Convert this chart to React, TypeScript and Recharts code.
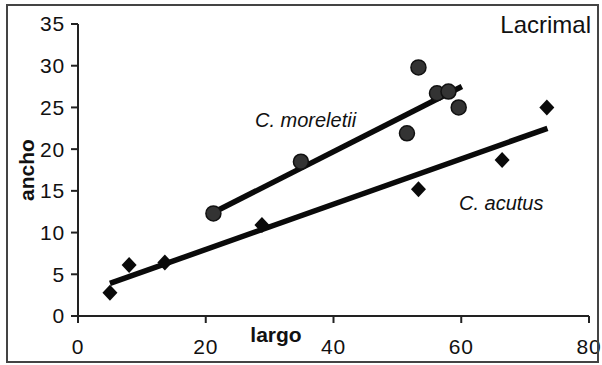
import React from "react";
import { ScatterChart, Scatter, XAxis, YAxis } from "recharts";

const acutusX = [5.0, 8.0, 13.6, 28.8, 53.3, 66.4, 73.4];
const acutusY = [2.8, 6.1, 6.4, 10.9, 15.2, 18.7, 25.0];
const moreletiiX = [21.2, 34.9, 51.5, 53.3, 56.2, 58.0, 59.6];
const moreletiiY = [12.3, 18.5, 21.9, 29.8, 26.7, 26.9, 25.0];
const acutusTrendX = [5.0, 73.5];
const acutusTrendY = [3.9, 22.5];
const moreletiiTrendX = [21.2, 60.1];
const moreletiiTrendY = [12.4, 27.5];
const xTicks = [0, 20, 40, 60, 80];
const yTicks = [0, 5, 10, 15, 20, 25, 30, 35];

const zip = (xs: number[], ys: number[]) => xs.map((x, i) => ({ x, y: ys[i] }));
const acutus = zip(acutusX, acutusY);
const moreletii = zip(moreletiiX, moreletiiY);
const acutusTrend = zip(acutusTrendX, acutusTrendY);
const moreletiiTrend = zip(moreletiiTrendX, moreletiiTrendY);

const FONT = '"Liberation Sans", Arial, Helvetica, sans-serif';

const Diamond = (props: any) => {
  const { cx, cy } = props;
  if (cx == null || cy == null) return <g />;
  const w = 7.5, h = 8;
  return (
    <polygon
      points={`${cx},${cy - h} ${cx + w},${cy} ${cx},${cy + h} ${cx - w},${cy}`}
      fill="#0a0a0a"
    />
  );
};

const Dot = (props: any) => {
  const { cx, cy } = props;
  if (cx == null || cy == null) return <g />;
  return <circle cx={cx} cy={cy} r={7.5} fill="#333" stroke="#111" strokeWidth={1.5} />;
};

const NoShape = () => <g />;

const tickStyle = { fontSize: 21, fill: "#111", fontFamily: FONT, letterSpacing: 0.8 };

export default function App() {
  return (
    <div style={{ position: "absolute", left: 0, top: 0, width: 602, height: 365, background: "#fff" }}>
      <ScatterChart
        width={602}
        height={365}
        margin={{ top: 24, right: 13, bottom: 9, left: 18 }}
      >
        <XAxis
          type="number"
          dataKey="x"
          domain={[0, 80]}
          ticks={xTicks}
          height={40}
          tick={tickStyle}
          tickSize={7}
          tickMargin={16}
          axisLine={{ stroke: "#222", strokeWidth: 2 }}
          tickLine={{ stroke: "#222", strokeWidth: 2 }}
          interval={0}
        />
        <YAxis
          type="number"
          dataKey="y"
          domain={[0, 35]}
          ticks={yTicks}
          width={60}
          tick={tickStyle}
          tickSize={7}
          tickMargin={6}
          axisLine={{ stroke: "#222", strokeWidth: 2 }}
          tickLine={{ stroke: "#222", strokeWidth: 2 }}
          interval={0}
        />
        <Scatter
          data={acutusTrend}
          line={{ stroke: "#0a0a0a", strokeWidth: 5.5 }}
          shape={NoShape}
          isAnimationActive={false}
        />
        <Scatter
          data={moreletiiTrend}
          line={{ stroke: "#0a0a0a", strokeWidth: 5.5 }}
          shape={NoShape}
          isAnimationActive={false}
        />
        <Scatter data={acutus} shape={Diamond} isAnimationActive={false} />
        <Scatter data={moreletii} shape={Dot} isAnimationActive={false} />
      </ScatterChart>
      <svg
        width={602}
        height={365}
        style={{ position: "absolute", left: 0, top: 0, pointerEvents: "none" }}
      >
        <rect x={7} y={5} width={591} height={357} fill="none" stroke="#444" strokeWidth={2} />
        <text x={591} y={33} textAnchor="end" fontSize={24} fontFamily={FONT} fill="#111">
          Lacrimal
        </text>
        <text x={255} y={127} fontSize={20} fontStyle="italic" fontFamily={FONT} fill="#111">
          C. moreletii
        </text>
        <text x={459} y={210} fontSize={20} fontStyle="italic" fontFamily={FONT} fill="#111">
          C. acutus
        </text>
        <text x={276} y={342} textAnchor="middle" fontSize={21} fontWeight="bold" fontFamily={FONT} fill="#111">
          largo
        </text>
        <text
          x={0}
          y={0}
          transform="translate(34,170) rotate(-90)"
          textAnchor="middle"
          fontSize={21}
          fontWeight="bold"
          fontFamily={FONT}
          fill="#111"
        >
          ancho
        </text>
      </svg>
    </div>
  );
}
